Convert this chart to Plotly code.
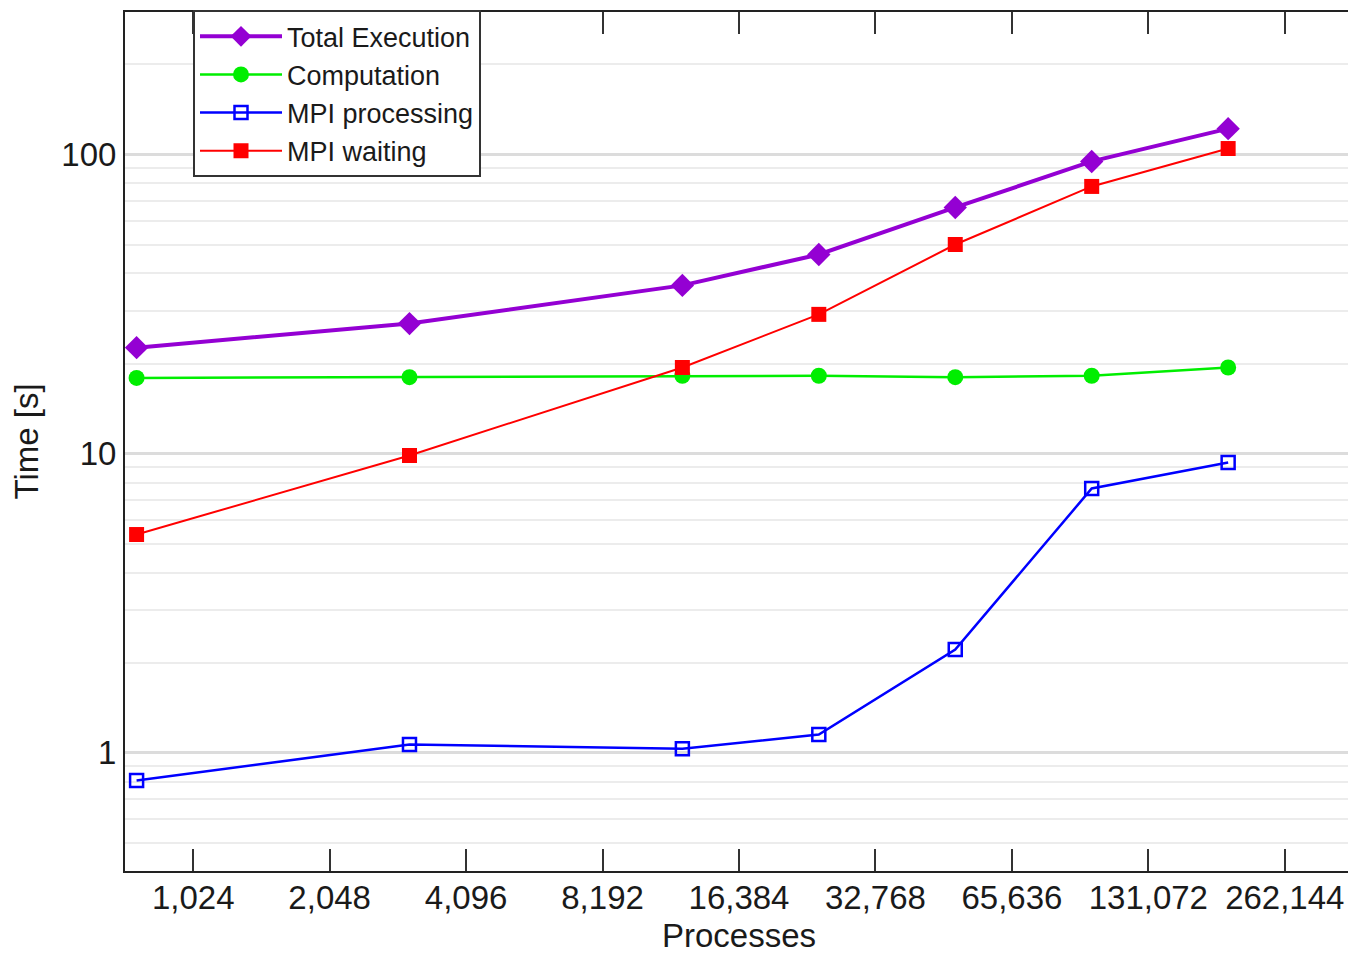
import math
import plotly.graph_objects as go

processes = [768, 3072, 12288, 24576, 49152, 98304, 196608]
total_execution = [22.6, 27.2, 36.5, 46.3, 66.5, 94.8, 122.0]
computation = [17.9, 18.0, 18.2, 18.2, 18.0, 18.2, 19.4]
mpi_processing = [0.806, 1.064, 1.03, 1.149, 2.21, 7.64, 9.33]
mpi_waiting = [5.36, 9.85, 19.4, 29.2, 50.0, 78.2, 104.7]

x_tickvals = [1024, 2048, 4096, 8192, 16384, 32768, 65536, 131072, 262144]
x_ticktext = ["1,024", "2,048", "4,096", "8,192", "16,384", "32,768", "65,636", "131,072", "262,144"]
y_tickvals = [1, 10, 100]
y_ticktext = ["1", "10", "100"]
y_minor = [0.4, 0.5, 0.6, 0.7, 0.8, 0.9, 2, 3, 4, 5, 6, 7, 8, 9,
           20, 30, 40, 50, 60, 70, 80, 90, 200, 300]

FONT = "Liberation Sans, Arial, Helvetica, sans-serif"

fig = go.Figure()
fig.add_trace(go.Scatter(
    x=processes, y=total_execution, name="Total Execution", mode="lines+markers",
    line=dict(color="#9400D3", width=4),
    marker=dict(symbol="diamond", size=18, color="#9400D3")))
fig.add_trace(go.Scatter(
    x=processes, y=computation, name="Computation", mode="lines+markers",
    line=dict(color="#00EE00", width=2.5),
    marker=dict(symbol="circle", size=16, color="#00EE00")))
fig.add_trace(go.Scatter(
    x=processes, y=mpi_processing, name="MPI processing", mode="lines+markers",
    line=dict(color="#0000FF", width=2.5),
    marker=dict(symbol="square-open", size=13, color="#0000FF", line=dict(width=2.5))))
fig.add_trace(go.Scatter(
    x=processes, y=mpi_waiting, name="MPI waiting", mode="lines+markers",
    line=dict(color="#FF0000", width=2),
    marker=dict(symbol="square", size=15, color="#FF0000")))

# page body has an 8px default margin; compensate so the plot sits where the reference has it
fig.update_layout(
    width=1348, height=945,
    margin=dict(l=117, r=3, t=2, b=82),
    paper_bgcolor="white", plot_bgcolor="white",
    font=dict(family=FONT, size=33, color="#1a1a1a"),
    showlegend=True,
    legend=dict(
        x=(193 - 125) / 1228, y=1.002, xanchor="left", yanchor="top",
        bgcolor="white", bordercolor="#333333", borderwidth=2,
        font=dict(family=FONT, size=27, color="#1a1a1a"),
        itemwidth=82, tracegroupgap=0,
    ),
    xaxis=dict(
        type="log", automargin=False,
        range=[9.5 * math.log10(2), 18.5 * math.log10(2)],
        tickmode="array", tickvals=x_tickvals, ticktext=x_ticktext,
        ticks="inside", ticklen=22, tickwidth=2, tickcolor="#333333",
        ticklabelstandoff=-4,
        showgrid=False, zeroline=False,
        showline=True, linecolor="#222222", linewidth=2, mirror="allticks",
        tickfont=dict(size=33),
    ),
    yaxis=dict(
        type="log", automargin=False,
        range=[-0.396, 2.4765],
        tickmode="array", tickvals=y_tickvals, ticktext=y_ticktext,
        ticks="", showgrid=True, gridcolor="#dcdcdc", gridwidth=2.5,
        minor=dict(tickmode="array", tickvals=y_minor, showgrid=True,
                   gridcolor="#ececec", gridwidth=2, ticks=""),
        zeroline=False,
        showline=True, linecolor="#222222", linewidth=2, mirror=True,
        title=dict(text="Time [s]", font=dict(size=33), standoff=14),
        tickfont=dict(size=33),
    ),
    annotations=[dict(
        text="Processes", xref="paper", yref="paper",
        x=0.5, y=(863 - 928) / 861, xanchor="center", yanchor="middle",
        showarrow=False, font=dict(family=FONT, size=33, color="#1a1a1a"),
    )],
)

fig.write_html("out.html")
